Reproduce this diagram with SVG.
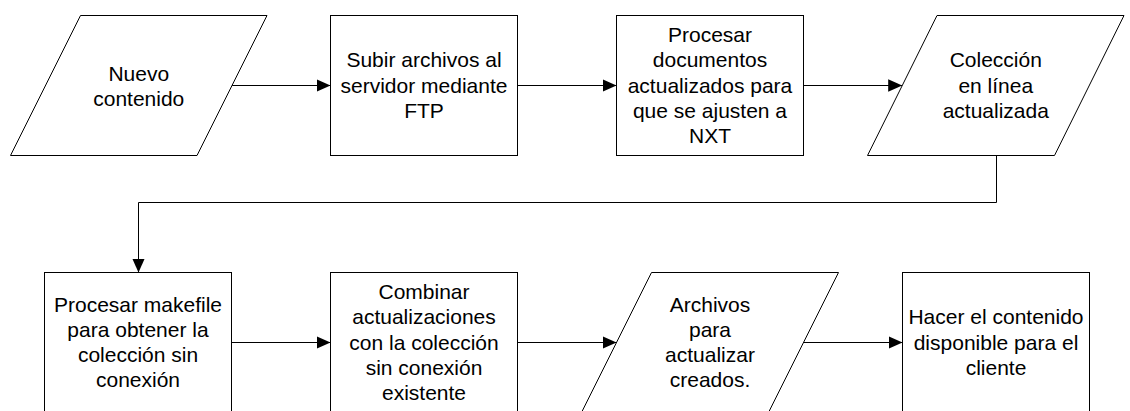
<svg xmlns="http://www.w3.org/2000/svg" width="1130" height="411" viewBox="0 0 1130 411">
<defs>
<style>
.shape{fill:#fff;stroke:#000;stroke-width:1}
.conn{fill:none;stroke:#000;stroke-width:1}
text{font-family:"Liberation Sans",Arial,sans-serif;font-size:21px;fill:#000;text-anchor:middle}
</style>
<marker id="arrow" markerUnits="userSpaceOnUse" markerWidth="15" markerHeight="13" refX="14" refY="6.25" orient="auto">
<path d="M0,0 L14,6.25 L0,12.5 z" fill="#000"/>
</marker>
</defs>
<rect width="1130" height="411" fill="#fff"/>
<g id="connectors">
<path class="conn" d="M232,85.5 H330.5" marker-end="url(#arrow)"/>
<path class="conn" d="M517.5,85.5 H616.5" marker-end="url(#arrow)"/>
<path class="conn" d="M803.5,85.5 H902.2" marker-end="url(#arrow)"/>
<path class="conn" d="M996.5,155.5 V202.5 H138.5 V272.5" marker-end="url(#arrow)"/>
<path class="conn" d="M231.5,342.5 H330.5" marker-end="url(#arrow)"/>
<path class="conn" d="M517.5,342.5 H616.5" marker-end="url(#arrow)"/>
<path class="conn" d="M803.5,342.5 H902.5" marker-end="url(#arrow)"/>
</g>
<g id="n1">
<polygon class="shape" points="80.5,15.5 267,15.5 197,155.5 10.5,155.5"/>
<text x="138.75" y="80.9">Nuevo</text>
<text x="138.75" y="106.1">contenido</text>
</g>
<g id="n2">
<rect class="shape" x="330.5" y="15.5" width="187" height="140"/>
<text x="424" y="67.3">Subir archivos al</text>
<text x="424" y="92.5">servidor mediante</text>
<text x="424" y="117.7">FTP</text>
</g>
<g id="n3">
<rect class="shape" x="616.5" y="15.5" width="187" height="140"/>
<text x="710" y="42.1">Procesar</text>
<text x="710" y="67.3">documentos</text>
<text x="710" y="92.5">actualizados para</text>
<text x="710" y="117.7">que se ajusten a</text>
<text x="710" y="142.9">NXT</text>
</g>
<g id="n4">
<polygon class="shape" points="937,15.5 1124,15.5 1054.5,155.5 867.5,155.5"/>
<text x="995.75" y="67.3">Colección</text>
<text x="995.75" y="92.5">en línea</text>
<text x="995.75" y="117.7">actualizada</text>
</g>
<g id="n5">
<rect class="shape" x="44.5" y="272.5" width="187" height="140"/>
<text x="138" y="311.7">Procesar makefile</text>
<text x="138" y="336.9">para obtener la</text>
<text x="138" y="362.1">colección sin</text>
<text x="138" y="387.3">conexión</text>
</g>
<g id="n6">
<rect class="shape" x="330.5" y="272.5" width="187" height="140"/>
<text x="424" y="299.1">Combinar</text>
<text x="424" y="324.3">actualizaciones</text>
<text x="424" y="349.5">con la colección</text>
<text x="424" y="374.7">sin conexión</text>
<text x="424" y="399.9">existente</text>
</g>
<g id="n7">
<polygon class="shape" points="651.5,272.5 838.5,272.5 768.5,412.5 581.5,412.5"/>
<text x="710" y="311.7">Archivos</text>
<text x="710" y="336.9">para</text>
<text x="710" y="362.1">actualizar</text>
<text x="710" y="387.3">creados.</text>
</g>
<g id="n8">
<rect class="shape" x="902.5" y="272.5" width="187" height="140"/>
<text x="996" y="324.3">Hacer el contenido</text>
<text x="996" y="349.5">disponible para el</text>
<text x="996" y="374.7">cliente</text>
</g>
</svg>
